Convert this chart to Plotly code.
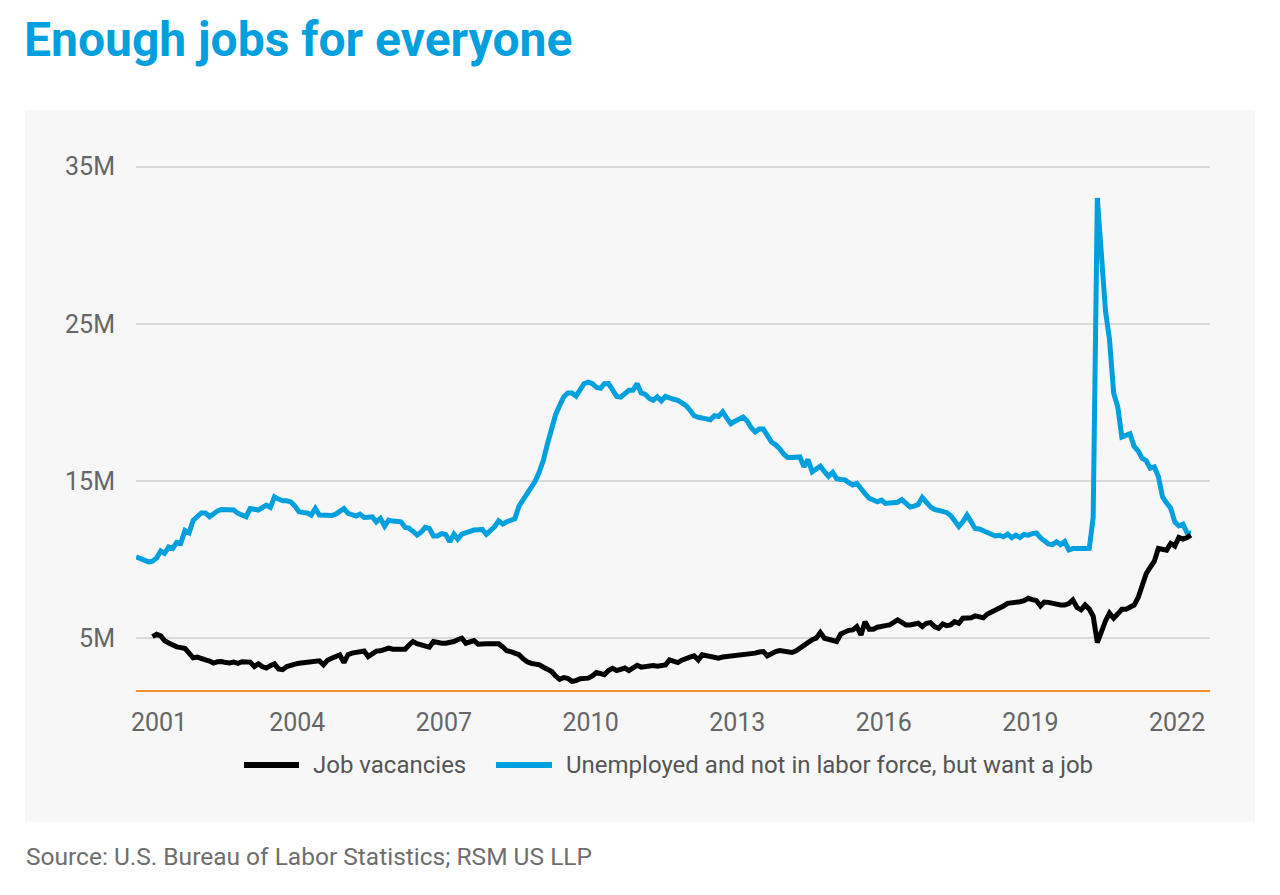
import pandas as pd
import plotly.graph_objects as go

# ---------------- data (millions, monthly) ----------------
vac_start = "2000-12-01"
job_vacancies = [
    5.10,
    5.25, 5.15, 4.85, 4.70, 4.55, 4.45, 4.40, 4.35, 4.05, 3.75, 3.80, 3.75,   # 2001
    3.62, 3.55, 3.42, 3.50, 3.52, 3.45, 3.42, 3.48, 3.40, 3.50, 3.45, 3.48,   # 2002
    3.20, 3.37, 3.20, 3.10, 3.25, 3.37, 3.05, 3.00, 3.20, 3.24, 3.35, 3.41,   # 2003
    3.45, 3.48, 3.51, 3.55, 3.56, 3.30, 3.60, 3.73, 3.85, 3.94, 3.45, 3.95,   # 2004
    4.05, 4.08, 4.12, 4.18, 3.83, 4.00, 4.18, 4.20, 4.30, 4.37, 4.30, 4.30,   # 2005
    4.28, 4.30, 4.55, 4.79, 4.65, 4.57, 4.50, 4.43, 4.79, 4.70, 4.68, 4.68,   # 2006
    4.72, 4.79, 4.90, 5.00, 4.68, 4.80, 4.85, 4.62, 4.60, 4.64, 4.64, 4.64,   # 2007
    4.64, 4.45, 4.20, 4.15, 4.05, 3.95, 3.70, 3.50, 3.40, 3.37, 3.30, 3.15,   # 2008
    3.00, 2.88, 2.60, 2.38, 2.50, 2.45, 2.26, 2.30, 2.42, 2.46, 2.46, 2.60,   # 2009
    2.82, 2.75, 2.68, 2.95, 3.08, 2.94, 3.00, 3.10, 2.94, 3.15, 3.28, 3.16,   # 2010
    3.20, 3.30, 3.26, 3.22, 3.24, 3.30, 3.62, 3.55, 3.45, 3.60, 3.73, 3.80,   # 2011
    3.88, 3.62, 3.94, 3.90, 3.85, 3.83, 3.73, 3.80, 3.83, 3.83, 3.90, 3.94,   # 2012
    3.95, 4.00, 4.02, 4.05, 4.12, 4.15, 3.88, 4.05, 4.15, 4.21, 4.15, 4.10,   # 2013
    4.09, 4.20, 4.37, 4.60, 4.75, 4.90, 5.00, 5.36, 5.00, 4.94, 4.90, 4.79,   # 2014
    5.27, 5.42, 5.50, 5.53, 5.74, 5.21, 6.05, 5.57, 5.57, 5.70, 5.78, 5.80,   # 2015
    5.85, 5.99, 6.16, 6.00, 5.84, 5.84, 5.90, 5.95, 5.74, 5.95, 5.99, 5.74,   # 2016
    5.63, 5.90, 5.80, 5.85, 6.05, 5.95, 6.27, 6.27, 6.30, 6.42, 6.35, 6.30,   # 2017
    6.54, 6.65, 6.75, 6.90, 7.05, 7.22, 7.24, 7.26, 7.32, 7.39, 7.54, 7.45,   # 2018
    7.40, 7.05, 7.30, 7.28, 7.20, 7.15, 7.11, 7.11, 7.20, 7.43, 6.95, 6.80,   # 2019
    7.11, 6.85, 6.40, 4.72, 5.45, 6.10, 6.60, 6.27, 6.55, 6.84, 6.84, 6.95,   # 2020
    7.11, 7.60, 8.30, 9.10, 9.50, 9.90, 10.71, 10.65, 10.60, 11.03, 10.86, 11.41,  # 2021
    11.30, 11.40, 11.56,                                                      # 2022
]

unemp_start = "2000-08-01"
unemployed_want_job = [
    10.18, 10.05, 9.95, 9.86, 9.90,
    10.10, 10.55, 10.40, 10.80, 10.71, 11.10, 11.05, 11.85, 11.70, 12.50, 12.80, 12.97,  # 2001
    12.97, 12.72, 12.90, 13.10, 13.19, 13.20, 13.19, 13.15, 12.94, 12.85, 12.72, 13.25,  # 2002
    13.20, 13.15, 13.30, 13.46, 13.32, 13.99, 13.85, 13.74, 13.74, 13.67, 13.40, 13.04,  # 2003
    13.00, 12.97, 12.83, 13.25, 12.83, 12.80, 12.77, 12.80, 12.89, 13.10, 13.25, 12.94,  # 2004
    12.85, 12.77, 12.89, 12.68, 12.70, 12.72, 12.40, 12.62, 12.13, 12.51, 12.45, 12.40,  # 2005
    12.40, 12.05, 12.00, 11.80, 11.56, 11.75, 12.05, 11.98, 11.50, 11.50, 11.65, 11.60,  # 2006
    11.13, 11.62, 11.30, 11.62, 11.70, 11.85, 11.88, 11.90, 11.92, 11.60, 11.85, 12.09,  # 2007
    12.47, 12.26, 12.40, 12.51, 12.60, 13.40, 13.80, 14.10, 14.50, 15.00, 15.60, 16.35,  # 2008
    17.40, 18.50, 19.20, 19.80, 20.35, 20.60, 20.60, 20.40, 20.80, 21.20, 21.29, 21.20,  # 2009
    20.95, 20.90, 21.19, 21.20, 20.80, 20.38, 20.34, 20.55, 20.77, 20.77, 21.19, 20.60,  # 2010
    20.50, 20.25, 20.13, 20.35, 20.10, 20.38, 20.25, 20.20, 20.13, 20.00, 19.80, 19.50,  # 2011
    19.15, 19.05, 18.97, 18.95, 18.90, 19.15, 19.10, 19.40, 19.00, 18.65, 18.80, 18.90,  # 2012
    19.07, 18.80, 18.40, 18.12, 18.30, 18.30, 17.90, 17.48, 17.30, 17.06, 16.70, 16.50,  # 2013
    16.49, 16.50, 16.53, 15.90, 16.37, 15.58, 15.80, 15.94, 15.60, 15.30, 15.55, 15.15,  # 2014
    15.10, 15.07, 14.90, 14.75, 14.84, 14.45, 14.20, 13.90, 13.80, 13.67, 13.78, 13.57,  # 2015
    13.60, 13.60, 13.65, 13.82, 13.60, 13.35, 13.40, 13.50, 13.95, 13.60, 13.35, 13.19,  # 2016
    13.15, 13.05, 13.00, 12.80, 12.50, 12.10, 12.40, 12.83, 12.40, 11.98, 11.95, 11.85,  # 2017
    11.75, 11.65, 11.50, 11.55, 11.45, 11.62, 11.40, 11.56, 11.40, 11.60, 11.55, 11.65,  # 2018
    11.70, 11.40, 11.20, 11.00, 10.95, 11.13, 10.95, 11.15, 10.61, 10.70, 10.70, 10.67,  # 2019
    10.70, 10.71, 12.70, 33.00, 29.50, 25.80, 24.00, 20.60, 19.70, 17.80, 17.90, 18.00,  # 2020
    17.20, 16.90, 16.45, 16.30, 15.81, 15.90, 15.28, 14.00, 13.60, 13.27, 12.40, 12.15,  # 2021
    12.25, 11.70, 11.67,                                                                 # 2022
]

series_names = ["Job vacancies", "Unemployed and not in labor force, but want a job"]
x_tick_labels = ["2001", "2004", "2007", "2010", "2013", "2016", "2019", "2022"]
y_tick_values = [5, 15, 25, 35]
y_tick_labels = ["5M", "15M", "25M", "35M"]
title_text = "Enough jobs for everyone"
source_text = "Source: U.S. Bureau of Labor Statistics; RSM US LLP"

# ---------------- styling ----------------
BLUE = "#00a0df"
BLACK = "#000000"
ORANGE = "#f7902a"
PANEL = "#f7f7f7"
GRID = "#d9d9d9"
TICK = "#666666"
FONT = "Roboto"

W, H = 1280, 895
L, R, T, B = 136, 1210, 140, 690  # plot area in pixels


def px(xp):
    return (xp - L) / (R - L)


def py(yp):
    return (B - yp) / (B - T)


vac_dates = pd.date_range(vac_start, periods=len(job_vacancies), freq="MS")
unemp_dates = pd.date_range(unemp_start, periods=len(unemployed_want_job), freq="MS")

fig = go.Figure()
fig.add_trace(go.Scatter(x=unemp_dates, y=unemployed_want_job, mode="lines",
                         name=series_names[1], line=dict(color=BLUE, width=5),
                         showlegend=False))
fig.add_trace(go.Scatter(x=vac_dates, y=job_vacancies, mode="lines",
                         name=series_names[0], line=dict(color=BLACK, width=5),
                         showlegend=False))

# tick positions (labels sit slightly before each new year, first one nudged in)
tick_pos = []
for i, lab in enumerate(x_tick_labels):
    base = pd.Timestamp(f"{lab}-01-01")
    tick_pos.append(base + pd.Timedelta(days=18) if i == 0 else base - pd.Timedelta(days=44))

fig.update_xaxes(type="date", range=["2000-07-31", "2022-07-22"],
                 tickvals=tick_pos, ticktext=x_tick_labels,
                 showgrid=False, zeroline=False, ticks="",
                 showline=True, linecolor=ORANGE, linewidth=2,
                 tickfont=dict(family=FONT, size=25, color=TICK),
                 ticklabelstandoff=9)
fig.update_yaxes(range=[1.705, 36.69], tickvals=y_tick_values, ticktext=y_tick_labels,
                 showgrid=True, gridcolor=GRID, gridwidth=2, zeroline=False,
                 ticks="", showline=False,
                 tickfont=dict(family=FONT, size=25, color=TICK),
                 ticklabelstandoff=20)

shapes = [
    dict(type="rect", xref="paper", yref="paper", x0=px(25), x1=px(1255),
         y0=py(822), y1=py(110), fillcolor=PANEL, line=dict(width=0), layer="below"),
    dict(type="line", xref="paper", yref="paper", x0=px(244), x1=px(299),
         y0=py(765), y1=py(765), line=dict(color=BLACK, width=6)),
    dict(type="line", xref="paper", yref="paper", x0=px(496), x1=px(552),
         y0=py(765), y1=py(765), line=dict(color=BLUE, width=6)),
]

annotations = [
    dict(text=f"<b>{title_text}</b>", xref="paper", yref="paper", x=px(22), y=py(40),
         xanchor="left", yanchor="middle", showarrow=False,
         font=dict(family=FONT, size=48, color=BLUE)),
    dict(text=source_text, xref="paper", yref="paper", x=px(24), y=py(856),
         xanchor="left", yanchor="middle", showarrow=False,
         font=dict(family=FONT, size=24.5, color="#6e6e6e")),
    dict(text=series_names[0], xref="paper", yref="paper", x=px(311), y=py(765),
         xanchor="left", yanchor="middle", showarrow=False,
         font=dict(family=FONT, size=24, color="#555555")),
    dict(text=series_names[1], xref="paper", yref="paper", x=px(564), y=py(765),
         xanchor="left", yanchor="middle", showarrow=False,
         font=dict(family=FONT, size=24, color="#555555")),
]

fig.update_layout(width=W, height=H,
                  margin=dict(l=L, r=W - R, t=T, b=H - B),
                  paper_bgcolor="white", plot_bgcolor="rgba(0,0,0,0)",
                  shapes=shapes, annotations=annotations, showlegend=False,
                  font=dict(family=FONT))

fig.write_html("out.html", config={"displayModeBar": False},
               post_script="document.body.style.margin='0';document.body.style.padding='0';")
